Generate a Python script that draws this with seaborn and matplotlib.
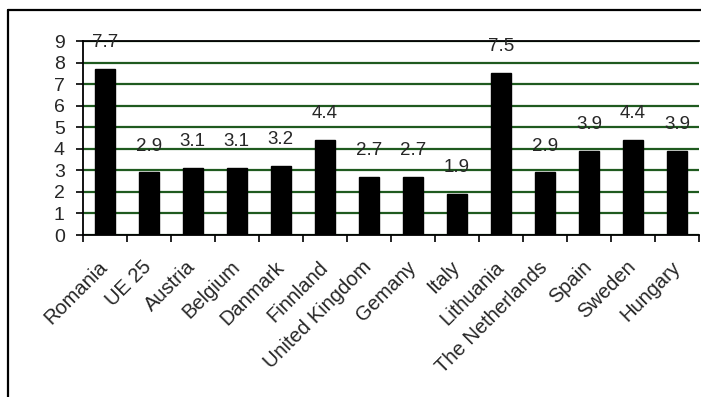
import matplotlib
matplotlib.use("Agg")
import matplotlib.pyplot as plt
import seaborn as sns
import pandas as pd
from matplotlib.lines import Line2D

countries = ["Romania", "UE 25", "Austria", "Belgium", "Danmark", "Finnland",
             "United Kingdom", "Gemany", "Italy", "Lithuania", "The Netherlands",
             "Spain", "Sweden", "Hungary"]
values = [7.7, 2.9, 3.1, 3.1, 3.2, 4.4, 2.7, 2.7, 1.9, 7.5, 2.9, 3.9, 4.4, 3.9]
yticks = list(range(0, 10))

sns.set_style("white")
plt.rcParams['font.family'] = ['Liberation Sans', 'DejaVu Sans']

df = pd.DataFrame({"country": countries, "value": values})

fig = plt.figure(figsize=(7.01, 3.97), dpi=100)
ax = fig.add_axes([82.7 / 701, 1 - 235 / 397, (699 - 82.7) / 701, (235 - 41) / 397])

sns.barplot(data=df, x="country", y="value", color="black", width=0.46,
            edgecolor="black", saturation=1, ax=ax)

ax.set_xlim(-0.5, len(countries) - 0.5)
ax.set_ylim(0, 9)
ax.set_yticks(yticks)
ax.set_yticklabels([str(t) for t in yticks], fontsize=14)
ax.yaxis.grid(True, color="#1f5a1f", linewidth=1.6)
ax.set_axisbelow(True)
ax.set_xlabel("")
ax.set_ylabel("")

# category boundary ticks
ax.set_xticks([i - 0.5 for i in range(len(countries) + 1)], minor=False)
ax.set_xticklabels([""] * (len(countries) + 1))
ax.set_xticks(range(len(countries)), minor=True)
ax.set_xticklabels(countries, minor=True, rotation=45, ha="right", va="center",
                   rotation_mode="anchor", fontsize=14.5)
ax.tick_params(axis="x", which="major", direction="out", length=5, width=1.2, color="black", bottom=True)
ax.tick_params(axis="x", which="minor", length=0, pad=21)
ax.tick_params(axis="y", direction="out", length=5, width=1.2, color="black", left=True, pad=8)

for s in ["left", "bottom", "top"]:
    ax.spines[s].set_visible(True)
    ax.spines[s].set_color("black")
    ax.spines[s].set_linewidth(1.3)
ax.spines["right"].set_visible(False)

for i, v in enumerate(values):
    ax.annotate(f"{v}", (i, v), xytext=(0, 19), textcoords="offset points",
                ha="center", va="center", fontsize=13.5)

# outer frame (left and top edges)
fig.add_artist(Line2D([8 / 701, 8 / 701], [0, 1 - 10 / 397], transform=fig.transFigure,
                      color="black", linewidth=1.6))
fig.add_artist(Line2D([8 / 701, 1], [1 - 10 / 397, 1 - 10 / 397], transform=fig.transFigure,
                      color="black", linewidth=1.6))

fig.savefig("out.png", dpi=100)
